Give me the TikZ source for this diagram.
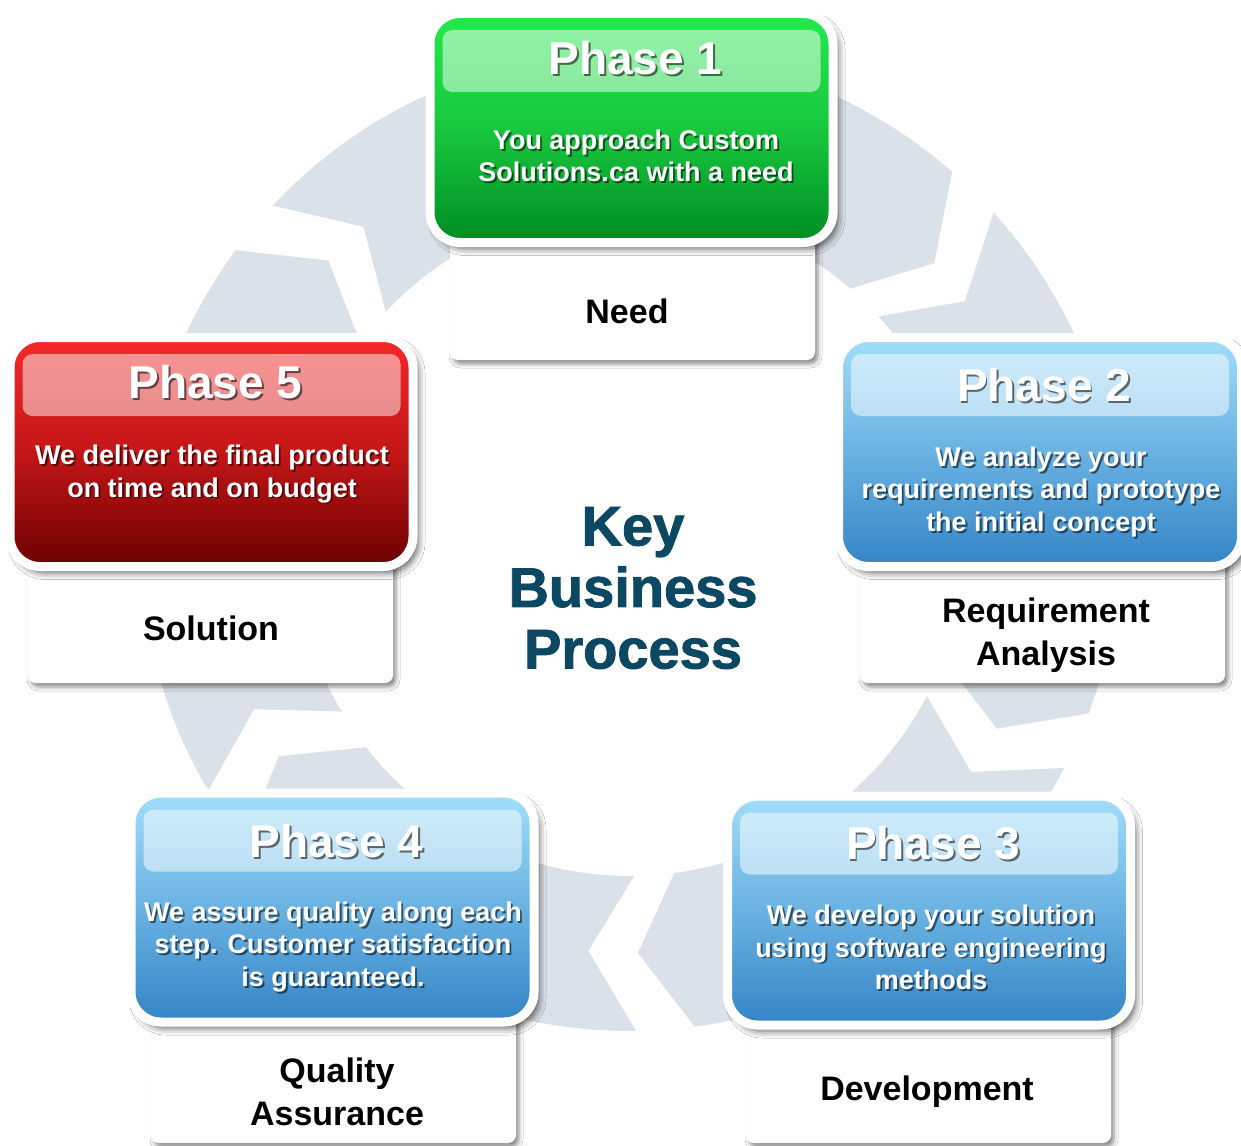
\documentclass[tikz,border=0pt]{standalone}
\usepackage{fontspec}
\setmainfont{Liberation Sans}
\newfontfamily\keyfont{Liberation Sans}[BoldFont={Liberation Sans Bold},BoldFeatures={FakeBold=1.6}]
\usetikzlibrary{calc,shadows.blur}
\definecolor{ringc}{RGB}{218,225,232}
\definecolor{keyc}{RGB}{12,72,98}
\definecolor{g1}{RGB}{34,234,76}
\definecolor{g2}{RGB}{24,200,62}
\definecolor{g3}{RGB}{0,140,36}
\definecolor{r1}{RGB}{246,40,40}
\definecolor{r2}{RGB}{196,22,24}
\definecolor{r3}{RGB}{108,0,0}
\definecolor{b1}{RGB}{162,222,249}
\definecolor{b2}{RGB}{105,178,226}
\definecolor{b3}{RGB}{52,132,198}
\newcommand{\shtext}[4]{%
  \node[#1,text=black,text opacity=.55,xshift=1.8pt,yshift=-1.8pt] (#2s) at (#3) {#4};
  \node[#1] (#2) at (#3) {#4};}
\begin{document}
\begin{tikzpicture}[x=1pt,y=-1pt,
  phase/.style={draw=white,line width=9,rounded corners=30,minimum width=403,minimum height=229,
    blur shadow={shadow xshift=5pt,shadow yshift=-6pt,shadow blur radius=7pt,shadow opacity=65}},
  band/.style={fill=white,fill opacity=.5,rounded corners=10,minimum width=378,minimum height=62},
  lblbox/.style={fill=white,rounded corners=8,minimum width=365,
    blur shadow={shadow xshift=3pt,shadow yshift=-4pt,shadow blur radius=4pt,shadow opacity=45}},
  ptitle/.style={text=white,font=\fontsize{46}{50}\selectfont\bfseries},
  desc/.style={text=white,align=center,font=\fontsize{27}{32.5}\selectfont\bfseries},
  lbl/.style={align=center,font=\fontsize{34}{43}\selectfont\bfseries},
  keytxt/.style={text=keyc,align=center,font=\fontsize{56}{61.5}\selectfont\keyfont\bfseries}]
	\path[use as bounding box,fill=white] (0,0) rectangle (1241,1145);
	% ring of arrows
	\begin{scope}[shift={(630,541)},yscale=-1]
	\foreach \a/\b in {130.3/42.4,35.6/-27.1,-34.1/-88.9,-95.8/-148.5,-155.9/-222.9}
	  \fill[ringc] (\a+6.5:490) arc[start angle=\a+6.5,end angle=\b+6.5,radius=490] -- (\b:412)
	    -- (\b+6.5:335) arc[start angle=\b+6.5,end angle=\a+6.5,radius=335] -- (\a:412) -- cycle;
	\end{scope}
	\foreach \n/\x/\y/\h in {1/632.5/255/210,5/210.5/576.5/213,2/1042.5/576.5/213,4/333.5/1031.5/223,3/928.5/1031.5/223}
	  \node[lblbox,minimum height=\h] (l\n) at (\x,\y) {};
	\foreach \n/\x/\y/\c/\s in {1/631.5/128/g/3,5/211.5/452/r/3,2/1040/452/b/0,4/332.5/907.5/b/-1,3/929/910.5/b/0}{
	  \node[phase,top color=\c1,bottom color=\c3,middle color=\c2] (p\n) at (\x,\y) {};
	  \node[band] (h\n) at ($(p\n)+(0,-67)$) {};
	  \shtext{ptitle,xshift=4pt,yshift=\s pt}{t\n}{h\n}{Phase \n}
	}
	\shtext{desc}{d1}{636,156}{You approach Custom\\Solutions.ca with a need}
	\shtext{desc}{d5}{212,474}{We deliver the final product\\on time and on budget}
	\shtext{desc}{d2}{1041,492}{We analyze your\\requirements and prototype\\the initial concept}
	\shtext{desc}{d4}{333,947}{We assure quality along each\\step. Customer satisfaction\\is guaranteed.}
	\shtext{desc}{d3}{931,947.5}{We develop your solution\\using software engineering\\methods}
	\node[lbl] (n1) at (627,311) {Need};
	\node[lbl] (n5) at (211,628) {Solution};
	\node[lbl] (n2) at (1046,635) {Requirement\\Analysis};
	\node[lbl] (n4) at (337,1092) {Quality\\Assurance};
	\node[lbl] (n3) at (927,1092) {Development};
	\node[keytxt] (key) at (633,588) {Key\\Business\\Process};
\end{tikzpicture}
\end{document}
